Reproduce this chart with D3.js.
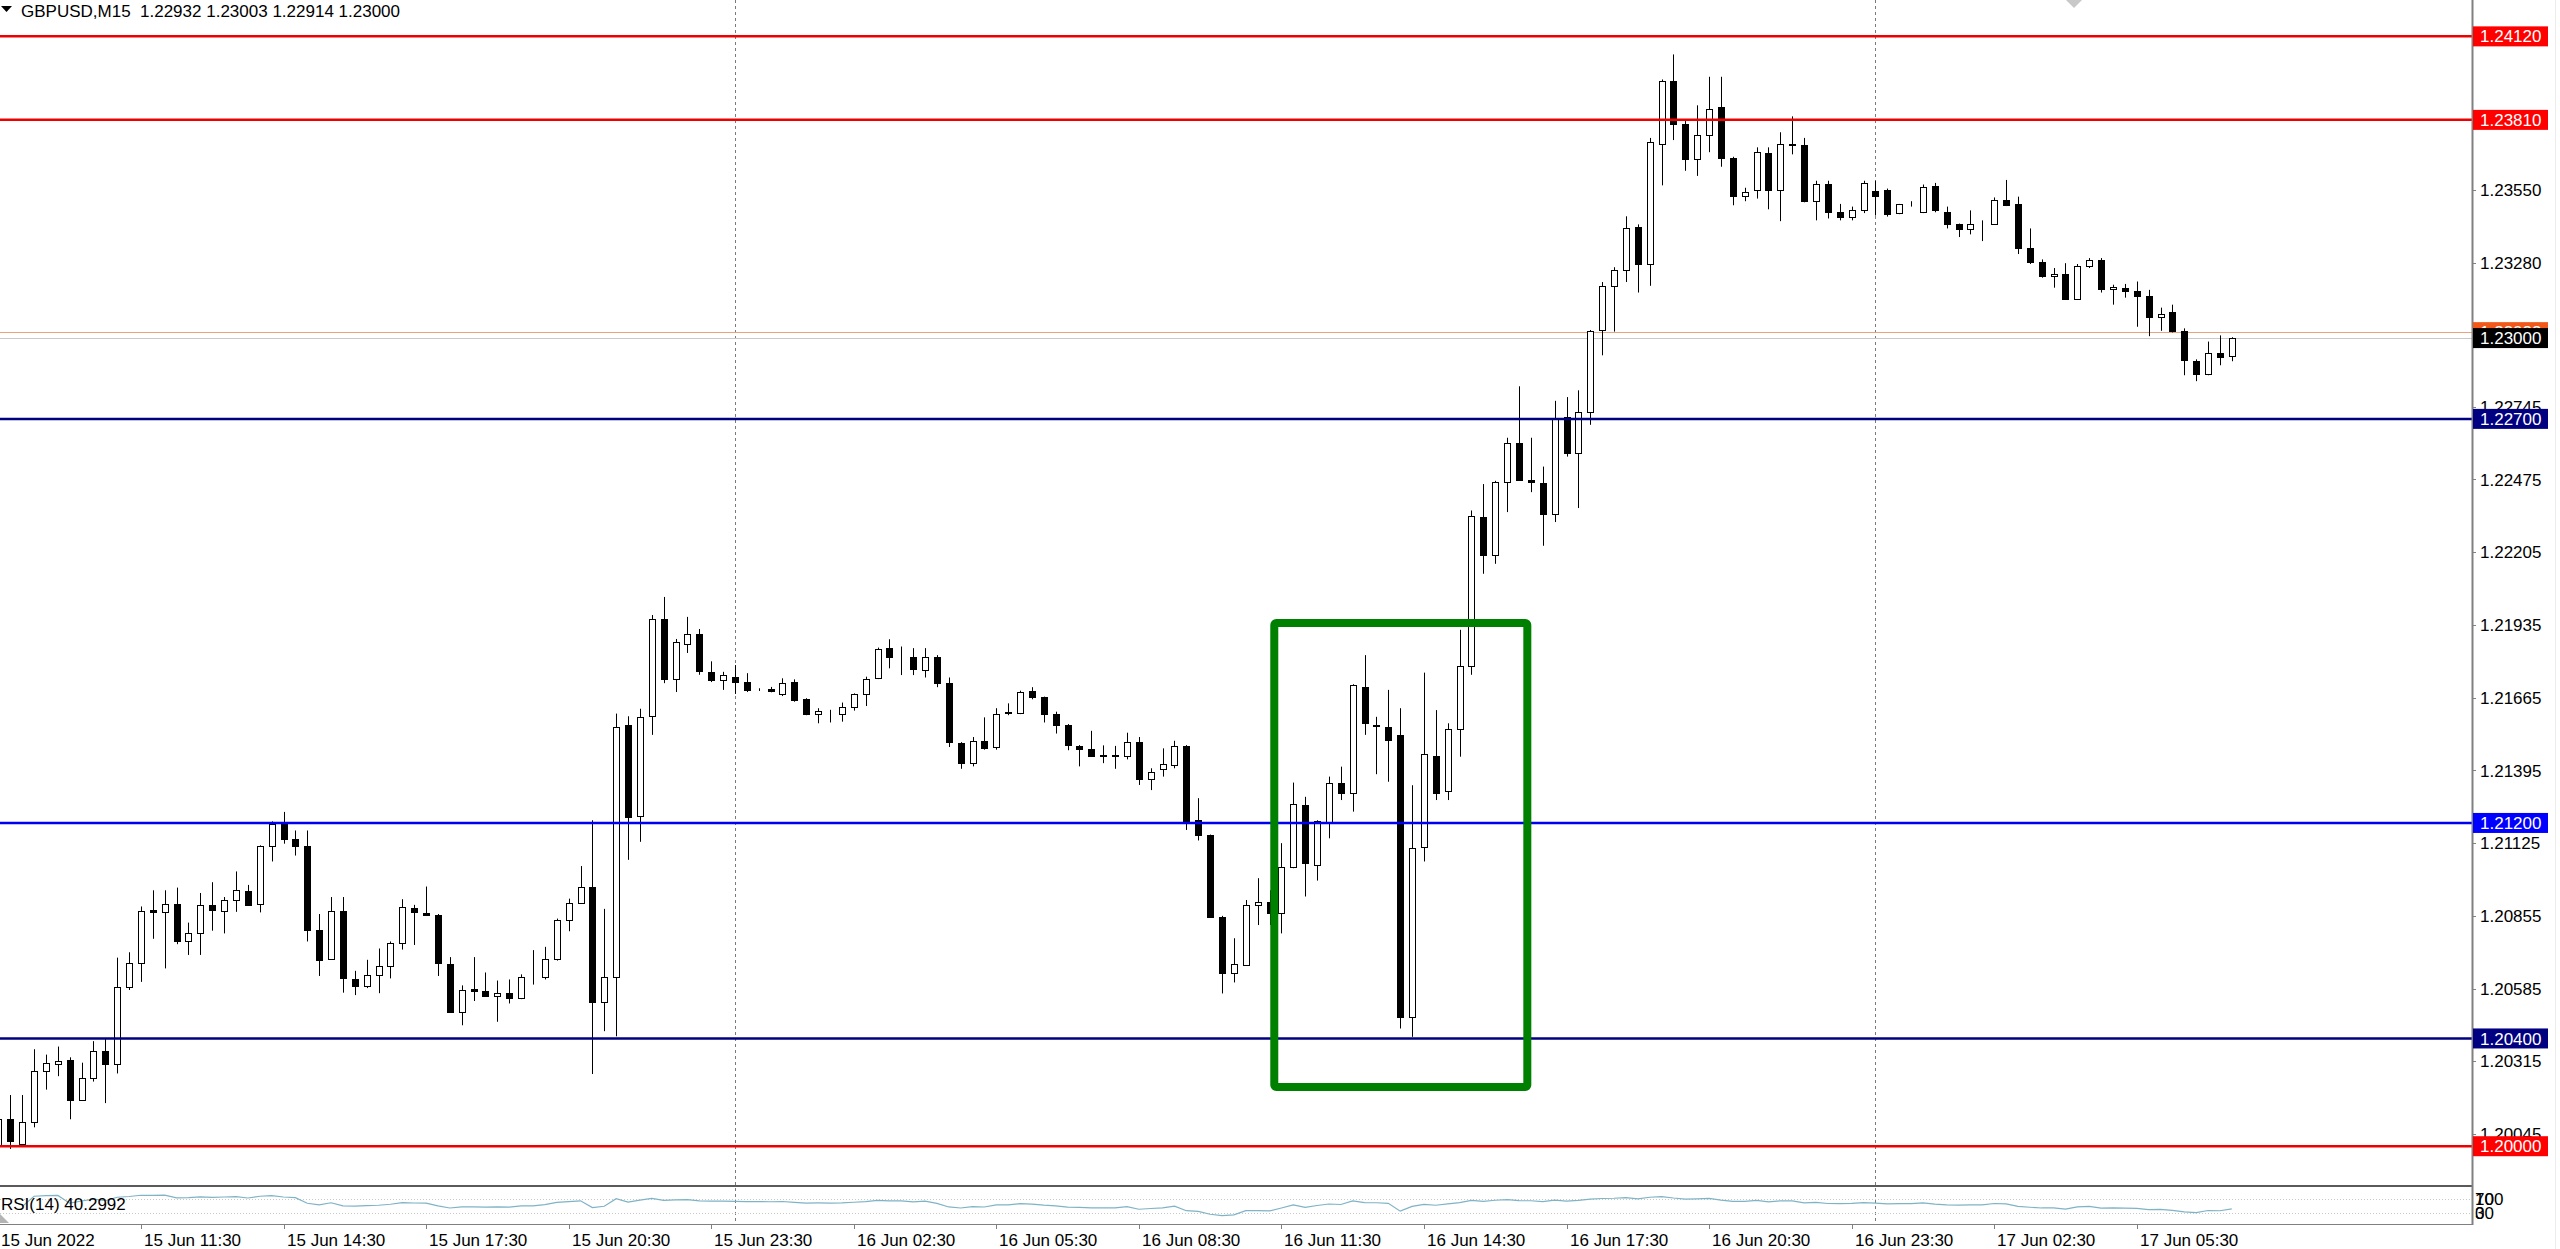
<!DOCTYPE html>
<html>
<head>
<meta charset="utf-8">
<script src="https://cdn.jsdelivr.net/npm/d3@7"></script>
<style>
html, body { margin: 0; padding: 0; background: #fff; overflow: hidden; }
svg { display: block; font-family: "Liberation Sans", Arial, sans-serif; }
</style>
</head>
<body>
<div id="chart"></div>
<script>
// GBPUSD M15, 15 Jun 2022 08:30 .. 17 Jun 2022 07:30, one entry per bar

var symbolTitle = "GBPUSD,M15";
var lastBarText = ["1.22932", "1.23003", "1.22914", "1.23000"];

var opens = [1.2000,1.2010,1.2001,1.2009,1.2028,1.20306,1.2032,1.2017,1.20255,1.20355,
1.20306,1.2059,1.2068,1.20878,1.2087,1.2090,1.20763,1.2079,1.20894,1.20874,
1.20913,1.20948,1.2090,1.21113,1.21197,1.2114,1.21113,1.20804,1.20696,1.20874,
1.20619,1.20593,1.20636,1.2067,1.20753,1.20883,1.20865,1.20859,1.20676,1.20498,
1.20583,1.20577,1.20559,1.20568,1.20549,1.2063,1.2063,1.20696,1.20839,1.20904,
1.20964,1.20536,1.20628,1.21564,1.21226,1.21597,1.21957,1.21735,1.21864,1.21901,
1.21761,1.21731,1.21742,1.21724,1.21694,1.21696,1.21679,1.21725,1.2166,1.21604,
1.21607,1.21604,1.21629,1.21677,1.21737,1.21849,1.21815,1.21815,1.21768,1.21817,
1.2172,1.21497,1.21422,1.21506,1.21482,1.21613,1.21609,1.21691,1.21666,1.21604,
1.21563,1.21487,1.21473,1.21452,1.21451,1.21448,1.2150,1.21362,1.2140,1.21415,
1.21486,1.21211,1.21154,1.20852,1.20642,1.20673,1.20896,1.20908,1.20865,1.21038,
1.21266,1.21044,1.21205,1.21347,1.21312,1.21706,1.21565,1.21555,1.21528,1.2048,
1.2111,1.21448,1.2132,1.21548,1.21781,1.22335,1.22196,1.22467,1.22609,1.22472,
1.22463,1.22347,1.22707,1.22575,1.22727,1.2303,1.23194,1.23253,1.23412,1.23275,
1.23721,1.23955,1.23795,1.23665,1.23753,1.23857,1.2367,1.23528,1.23549,1.23687,
1.23549,1.2372,1.23716,1.23508,1.23572,1.23469,1.23451,1.23477,1.23545,1.23549,
1.23464,1.23496,1.23469,1.23566,1.23467,1.23422,1.23404,1.23422,1.23425,1.23514,
1.23496,1.23336,1.23282,1.23231,1.23238,1.23145,1.23267,1.23289,1.23183,1.23186,
1.23175,1.23157,1.2308,1.23095,1.23027,1.22914,1.22868,1.22943,1.22932];

var highs = [1.2012,1.2019,1.2019,1.2036,1.2034,1.2037,1.2033,1.2031,1.2039,1.2040,
1.2070,1.2072,1.2089,1.2095,1.2095,1.2096,1.2083,1.2094,1.2098,1.20925,
1.2102,1.2097,1.21117,1.21206,1.21241,1.21172,1.21172,1.20862,1.20925,1.20925,
1.20651,1.20692,1.20734,1.2076,1.20917,1.20896,1.20964,1.20862,1.20702,1.20597,
1.20702,1.20645,1.20615,1.20619,1.20638,1.20728,1.2074,1.20845,1.20919,1.2104,
1.2121,1.20881,1.21606,1.21596,1.21624,1.21972,1.22039,1.21883,1.21965,1.2192,
1.2180,1.21761,1.21786,1.21756,1.2170,1.21705,1.21737,1.21733,1.21663,1.21626,
1.2162,1.21647,1.21681,1.21743,1.21851,1.21882,1.21855,1.21849,1.21849,1.21823,
1.2174,1.2150,1.21519,1.21592,1.21626,1.21644,1.21691,1.21704,1.21669,1.21613,
1.21567,1.21489,1.21542,1.21488,1.21486,1.21535,1.21519,1.21403,1.21477,1.21505,
1.21489,1.21292,1.21157,1.20855,1.20772,1.20914,1.20995,1.2095,1.21125,1.2135,
1.21297,1.2121,1.21372,1.21409,1.21715,1.21823,1.21594,1.21694,1.21626,1.2134,
1.21758,1.21619,1.2157,1.21917,1.2236,1.22458,1.2247,1.2263,1.22821,1.2263,
1.22523,1.22767,1.22781,1.22806,1.2303,1.23208,1.23263,1.23452,1.23422,1.23743,
1.2396,1.24053,1.23813,1.23864,1.2397,1.2397,1.23673,1.23558,1.23708,1.23708,
1.23764,1.23823,1.23743,1.23584,1.23584,1.23498,1.23488,1.23584,1.23584,1.23555,
1.23498,1.23508,1.2357,1.23576,1.23488,1.23425,1.23474,1.23437,1.23522,1.23587,
1.23525,1.23407,1.23292,1.2326,1.23278,1.23275,1.23297,1.23297,1.23198,1.23201,
1.2321,1.23179,1.23113,1.23124,1.23036,1.22921,1.22987,1.2301,1.23003];

var lows = [1.1998,1.1999,1.2000,1.2007,1.2021,1.2026,1.2010,1.2017,1.2024,1.2016,
1.2027,1.2058,1.2061,1.2077,1.2066,1.2075,1.2071,1.2071,1.2080,1.2079,
1.2087,1.20894,1.20868,1.21057,1.21123,1.21079,1.2076,1.20632,1.20692,1.2057,
1.20561,1.20587,1.20568,1.20623,1.2073,1.20747,1.20858,1.20632,1.20498,1.20449,
1.20539,1.20555,1.20462,1.2053,1.20546,1.2060,1.20619,1.20689,1.20798,1.20899,
1.20268,1.20427,1.20408,1.21063,1.2113,1.21527,1.21719,1.21686,1.21831,1.2175,
1.21723,1.21694,1.21679,1.21686,1.2169,1.21685,1.21671,1.2165,1.2160,1.2157,
1.21573,1.21576,1.21617,1.21634,1.21734,1.21774,1.21749,1.21749,1.2174,1.21704,
1.21482,1.21401,1.2141,1.21472,1.21472,1.2160,1.21604,1.21659,1.21573,1.21532,
1.2147,1.2141,1.21447,1.21422,1.21401,1.21436,1.21341,1.21322,1.21372,1.21403,
1.21174,1.21135,1.2085,1.20567,1.20608,1.20669,1.20821,1.20821,1.2079,1.21032,
1.20927,1.20986,1.21143,1.21285,1.21242,1.21527,1.21381,1.21353,1.20437,1.20406,
1.21057,1.21285,1.21285,1.21446,1.2175,1.22125,1.22162,1.22354,1.22472,1.22428,
1.22229,1.22317,1.2256,1.22369,1.22678,1.22936,1.23024,1.23208,1.23169,1.23194,
1.23567,1.23735,1.23621,1.23602,1.2369,1.23636,1.23493,1.23508,1.23518,1.23478,
1.23434,1.23682,1.23504,1.23437,1.23444,1.23437,1.23437,1.23464,1.23455,1.23451,
1.2346,1.23488,1.23464,1.23467,1.23407,1.23375,1.23385,1.2336,1.23422,1.2349,
1.23312,1.23275,1.23224,1.23187,1.23142,1.23142,1.2326,1.23169,1.23124,1.2315,
1.23042,1.23007,1.23027,1.23021,1.22862,1.2284,1.22862,1.22899,1.22914];

var closes = [1.2010,1.2002,1.2009,1.2028,1.2031,1.20315,1.2017,1.20255,1.20355,1.20306,
1.2059,1.2068,1.20874,1.2087,1.2090,1.20763,1.2079,1.20894,1.20877,1.20913,
1.20951,1.20897,1.21113,1.21197,1.2114,1.21113,1.20804,1.20692,1.20874,1.20623,
1.20593,1.20636,1.2067,1.20753,1.20887,1.20868,1.20859,1.20679,1.20498,1.20581,
1.20578,1.20559,1.2057,1.20549,1.20628,1.20627,1.20696,1.20839,1.20904,1.20964,
1.20536,1.20628,1.21555,1.21223,1.21592,1.21957,1.21735,1.21872,1.21901,1.21764,
1.21731,1.2175,1.21723,1.21694,1.21694,1.21691,1.21721,1.21656,1.21604,1.21617,
1.2161,1.21629,1.21677,1.21734,1.21845,1.21815,1.21816,1.2177,1.21817,1.21718,
1.2150,1.21422,1.21506,1.21479,1.21604,1.21607,1.21687,1.21666,1.21604,1.21563,
1.21489,1.21476,1.2145,1.2145,1.21449,1.2150,1.21362,1.2139,1.21418,1.21486,
1.21208,1.21155,1.20852,1.20644,1.20677,1.20896,1.20905,1.20865,1.21038,1.2127,
1.21053,1.21208,1.2135,1.21312,1.21712,1.21572,1.2156,1.21508,1.2048,1.21106,
1.21455,1.2131,1.21548,1.21781,1.2234,1.22196,1.22467,1.22609,1.22472,1.22465,
1.22347,1.22703,1.22575,1.22727,1.23027,1.23194,1.23253,1.2341,1.23275,1.23727,
1.23955,1.23795,1.23665,1.23753,1.23852,1.2367,1.23528,1.23543,1.2369,1.23549,
1.2372,1.23718,1.23508,1.23572,1.23469,1.23451,1.23477,1.23576,1.23528,1.2346,
1.23496,1.23498,1.23562,1.23474,1.23422,1.23404,1.23422,1.23425,1.23514,1.23493,
1.23336,1.23282,1.23231,1.23238,1.23145,1.23267,1.23289,1.23183,1.2319,1.23175,
1.23157,1.2308,1.2309,1.23027,1.22918,1.22868,1.22943,1.22928,1.2300];

// horizontal levels drawn on the chart
var levels = [1.24120, 1.23810, 1.22700, 1.21200, 1.20400, 1.20000];
var bidPrice = 1.23000, askPrice = 1.23022;

// price scale labels (right axis)
var priceTicks = [1.20045, 1.20315, 1.20585, 1.20855, 1.21125, 1.21395, 1.21665, 1.21935,
  1.22205, 1.22475, 1.22745, 1.23015, 1.23280, 1.23550, 1.23820];

// time scale labels, one every 12 bars (3 hours)
var timeLabels = ["15 Jun 2022", "15 Jun 11:30", "15 Jun 14:30", "15 Jun 17:30", "15 Jun 20:30",
  "15 Jun 23:30", "16 Jun 02:30", "16 Jun 05:30", "16 Jun 08:30", "16 Jun 11:30", "16 Jun 14:30",
  "16 Jun 17:30", "16 Jun 20:30", "16 Jun 23:30", "17 Jun 02:30", "17 Jun 05:30"];
var barsPerLabel = 12;
var daySeparators = [62, 158];   // bar index of 16 Jun 00:00 and 17 Jun 00:00

// green box drawn around the 16 Jun 11:30-16:00 reversal
var zoneBars = [107.4, 128.7], zonePrices = [1.21942, 1.20220];

var rsiPeriod = 14, rsiLevels = [70, 30], rsiText = "RSI(14) 40.2992";
var rsiScaleText = ["100", "70", "30", "0"];

// ---- layout
var width = 2560, height = 1249;
var plotRight = 2472, mainBottom = 1185, rsiTop = 1188, rsiBottom = 1223;

var levelColor = function(p) {
    if (p === 1.212) return "#0000f0";
    if (p === 1.227 || p === 1.204) return "#000080";
    return "#ee0000";
};

var svg = d3.select("#chart").append("svg")
    .attr("width", width)
    .attr("height", height);

svg.append("rect").attr("width", width).attr("height", height).attr("fill", "white");

var x = d3.scaleLinear().domain([0.1347, 208.22]).range([0, plotRight]);
var y = d3.scaleLinear().domain([1.19856, 1.24255]).range([mainBottom, 0]);
var yr = d3.scaleLinear().domain([0, 100]).range([rsiBottom, rsiTop]);

var bars = opens.map(function(o, i) {
    return { i: i, o: o, h: highs[i], l: lows[i], c: closes[i] };
});

// day separators
svg.append("g").selectAll("line")
    .data(daySeparators)
    .enter().append("line")
    .attr("x1", function(d) { return Math.round(x(d)) + 0.5; })
    .attr("x2", function(d) { return Math.round(x(d)) + 0.5; })
    .attr("y1", 0)
    .attr("y2", rsiBottom + 1)
    .attr("stroke", "#7a7a7a")
    .attr("stroke-width", 1)
    .attr("stroke-dasharray", "3,3");

// bid / ask lines
svg.append("line")
    .attr("x1", 0).attr("x2", plotRight)
    .attr("y1", Math.round(y(askPrice)) + 0.5).attr("y2", Math.round(y(askPrice)) + 0.5)
    .attr("stroke", "#eaa37f").attr("stroke-width", 1);
svg.append("line")
    .attr("x1", 0).attr("x2", plotRight)
    .attr("y1", Math.round(y(bidPrice)) + 0.5).attr("y2", Math.round(y(bidPrice)) + 0.5)
    .attr("stroke", "#c8c8c8").attr("stroke-width", 1);

// candles
var cx = function(d) { return Math.round(x(d.i)); };

var candles = svg.append("g").attr("class", "candles");

candles.selectAll("line")
    .data(bars)
    .enter().append("line")
    .attr("x1", function(d) { return cx(d) + 0.5; })
    .attr("x2", function(d) { return cx(d) + 0.5; })
    .attr("y1", function(d) { return y(d.h); })
    .attr("y2", function(d) { return y(d.l); })
    .attr("stroke", "black")
    .attr("stroke-width", 1);

candles.selectAll("rect")
    .data(bars)
    .enter().append("rect")
    .attr("x", function(d) { return cx(d) - 2.5; })
    .attr("width", 6)
    .attr("y", function(d) { return Math.round(y(Math.max(d.o, d.c))) + 0.5; })
    .attr("height", function(d) {
        return Math.max(0, Math.round(y(Math.min(d.o, d.c))) - Math.round(y(Math.max(d.o, d.c))));
    })
    .attr("fill", function(d) { return d.c >= d.o ? "white" : "black"; })
    .attr("stroke", "black")
    .attr("stroke-width", 1);

// level lines
svg.append("g").selectAll("line")
    .data(levels)
    .enter().append("line")
    .attr("x1", 0).attr("x2", plotRight)
    .attr("y1", function(d) { return y(d); })
    .attr("y2", function(d) { return y(d); })
    .attr("stroke", levelColor)
    .attr("stroke-width", 2.5);

// green zone
svg.append("rect")
    .attr("x", x(zoneBars[0]))
    .attr("y", y(zonePrices[0]))
    .attr("width", x(zoneBars[1]) - x(zoneBars[0]))
    .attr("height", y(zonePrices[1]) - y(zonePrices[0]))
    .attr("rx", 2)
    .attr("fill", "none")
    .attr("stroke", "#008000")
    .attr("stroke-width", 8);

// chart shift marker at the top
svg.append("path")
    .attr("d", "M2066,0 L2082,0 L2074,8 Z")
    .attr("fill", "#c8c8c8");

// header
svg.append("path").attr("d", "M1,6 L12,6 L6.5,12 Z").attr("fill", "black");
svg.append("text")
    .attr("x", 21).attr("y", 17)
    .style("white-space", "pre")
    .attr("font-size", 17)
    .attr("fill", "black")
    .text(symbolTitle + "  " + lastBarText.join(" "));

// ---- RSI panel
var rsi = [];
var gainSum = 0, lossSum = 0, avgG = 0, avgL = 0;
for (var i = 1; i < closes.length; i++) {
    var ch = closes[i] - closes[i - 1];
    var g = Math.max(ch, 0), l = Math.max(-ch, 0);
    if (i <= rsiPeriod) {
        gainSum += g; lossSum += l;
        avgG = gainSum / i; avgL = lossSum / i;
    } else {
        avgG = (avgG * (rsiPeriod - 1) + g) / rsiPeriod;
        avgL = (avgL * (rsiPeriod - 1) + l) / rsiPeriod;
    }
    if (i >= 2) rsi.push({ i: i, v: avgL === 0 ? 100 : 100 - 100 / (1 + avgG / avgL) });
}

svg.append("g").selectAll("line")
    .data(rsiLevels)
    .enter().append("line")
    .attr("x1", 0).attr("x2", plotRight)
    .attr("y1", function(d) { return Math.round(yr(d)) + 0.5; })
    .attr("y2", function(d) { return Math.round(yr(d)) + 0.5; })
    .attr("stroke", "#c8c8c8")
    .attr("stroke-width", 1)
    .attr("stroke-dasharray", "1,2");

svg.append("path")
    .datum(rsi)
    .attr("fill", "none")
    .attr("stroke", "#7fb3c6")
    .attr("stroke-width", 1.2)
    .attr("d", d3.line()
        .x(function(d) { return x(d.i); })
        .y(function(d) { return yr(d.v); }));

svg.append("text")
    .attr("x", 1).attr("y", 1210)
    .attr("font-size", 17)
    .attr("fill", "black")
    .text(rsiText);

svg.append("path").attr("d", "M0,1214 L9,1223 L0,1223 Z").attr("fill", "#b4b4b4");

// ---- frame
svg.append("rect").attr("x", 0).attr("y", mainBottom).attr("width", plotRight).attr("height", 2).attr("fill", "#5a5a5a");
svg.append("line").attr("x1", 0).attr("x2", plotRight + 1).attr("y1", rsiBottom + 1.5).attr("y2", rsiBottom + 1.5)
    .attr("stroke", "#808080").attr("stroke-width", 1);
svg.append("line").attr("x1", plotRight + 0.5).attr("x2", plotRight + 0.5).attr("y1", 0).attr("y2", rsiBottom + 2)
    .attr("stroke", "#808080").attr("stroke-width", 2);
svg.append("line").attr("x1", 2555.5).attr("x2", 2555.5).attr("y1", 0).attr("y2", height)
    .attr("stroke", "#ececec").attr("stroke-width", 1);

// ---- price axis
var axisG = svg.append("g");
axisG.selectAll("line")
    .data(priceTicks)
    .enter().append("line")
    .attr("x1", plotRight + 1).attr("x2", plotRight + 4)
    .attr("y1", function(d) { return Math.round(y(d)) + 0.5; })
    .attr("y2", function(d) { return Math.round(y(d)) + 0.5; })
    .attr("stroke", "#808080");
axisG.selectAll("text")
    .data(priceTicks)
    .enter().append("text")
    .attr("x", plotRight + 8)
    .attr("y", function(d) { return y(d); })
    .attr("dy", "0.36em")
    .attr("font-size", 17)
    .attr("fill", "black")
    .text(function(d) { return d.toFixed(5); });

// RSI scale labels: the panel is too thin, so 100/70 and 30/0 print on top of each other
svg.append("g").selectAll("text")
    .data(rsiScaleText)
    .enter().append("text")
    .attr("x", plotRight + 3)
    .attr("y", function(d, k) { return k < 2 ? yr(70) : yr(30); })
    .attr("dy", "0.36em")
    .attr("font-size", 17)
    .attr("fill", "black")
    .text(function(d) { return d; });

// price tags: ask, level lines, bid
var tag = function(price, fill, label) {
    var g = svg.append("g");
    g.append("rect")
        .attr("x", plotRight + 1)
        .attr("y", y(price) - 10)
        .attr("width", 75)
        .attr("height", 20)
        .attr("fill", fill);
    g.append("text")
        .attr("x", plotRight + 8)
        .attr("y", y(price))
        .attr("dy", "0.36em")
        .attr("font-size", 17)
        .attr("fill", "white")
        .text(label);
};
tag(askPrice, "#f2581a", askPrice.toFixed(5));
levels.forEach(function(p) {
    tag(p, p === 1.212 ? "#0000ff" : (p === 1.227 || p === 1.204 ? "#000080" : "#ff0000"), p.toFixed(5));
});
tag(bidPrice, "black", bidPrice.toFixed(5));

// ---- time axis
var timeG = svg.append("g");
timeG.selectAll("line")
    .data(timeLabels)
    .enter().append("line")
    .attr("x1", function(d, k) { return Math.round(x(k * barsPerLabel)) + 0.5; })
    .attr("x2", function(d, k) { return Math.round(x(k * barsPerLabel)) + 0.5; })
    .attr("y1", rsiBottom + 2)
    .attr("y2", rsiBottom + 6)
    .attr("stroke", "#808080");
timeG.selectAll("text")
    .data(timeLabels)
    .enter().append("text")
    .attr("x", function(d, k) { return Math.max(0, Math.round(x(k * barsPerLabel)) + 3); })
    .attr("y", 1246)
    .attr("font-size", 17)
    .attr("fill", "black")
    .text(function(d) { return d; });
</script>
</body>
</html>
